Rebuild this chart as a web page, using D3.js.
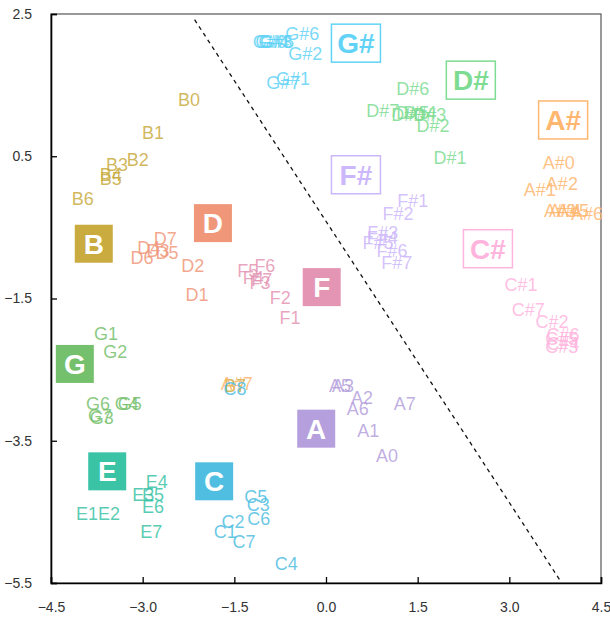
<!DOCTYPE html>
<html>
<head>
<meta charset="utf-8" />
<title>pitch map</title>
<script src="https://d3js.org/d3.v7.min.js"></script>
<style>
  body { margin: 0; background: #fff; }
  text { font-family: "Liberation Sans", Arial, sans-serif; }
</style>
</head>
<body>
<svg id="chart" width="610" height="619"></svg>
<script>
// group centres (big boxes)
var groupNames = ["A", "A#", "B", "C", "C#", "D", "D#", "E", "F", "F#", "G", "G#"];
var groupX = [-0.16, 3.88, -3.80, -1.83, 2.65, -1.85, 2.37, -3.58, -0.07, 0.49, -4.11, 0.49];
var groupY = [-3.33, 1.01, -0.73, -4.07, -0.80, -0.44, 1.57, -3.93, -1.34, 0.24, -2.42, 2.09];

// individual points
var labelNames = [
  "B0", "B1", "B2", "B3", "B4", "B5", "B6", "B7",
  "D1", "D2", "D3", "D4", "D5", "D6", "D7",
  "F1", "F2", "F3", "F4", "F5", "F6", "F7",
  "G#0", "G#1", "G#2", "G#3", "G#4", "G#5", "G#6", "G#7",
  "D#0", "D#1", "D#2", "D#3", "D#4", "D#5", "D#6", "D#7",
  "A#0", "A#1", "A#2", "A#3", "A#4", "A#5", "A#6", "A#7",
  "C#1", "C#2", "C#3", "C#4", "C#5", "C#6", "C#7",
  "F#1", "F#2", "F#3", "F#4", "F#5", "F#6", "F#7",
  "A0", "A1", "A2", "A3", "A5", "A6", "A7",
  "C1", "C2", "C3", "C4", "C5", "C6", "C7", "C8",
  "E1", "E2", "E3", "E4", "E5", "E6", "E7",
  "G1", "G2", "G3", "G4", "G5", "G6", "G7"
];
var labelX = [
  -2.24, -2.83, -3.08, -3.42, -3.52, -3.52, -3.98, -1.49,
  -2.11, -2.18, -2.75, -2.90, -2.60, -3.01, -2.63,
  -0.59, -0.75, -1.08, -1.19, -1.28, -1.00, -1.05,
  -0.92, -0.54, -0.34, -0.83, -0.88, -0.80, -0.39, -0.70,
  1.34, 2.03, 1.75, 1.70, 1.54, 1.42, 1.42, 0.93,
  3.81, 3.50, 3.86, 3.83, 3.91, 4.04, 4.27, -1.46,
  3.19, 3.70, 3.86, 3.88, 3.86, 3.88, 3.31,
  1.42, 1.18, 0.93, 0.92, 0.85, 1.08, 1.16,
  1.00, 0.69, 0.59, 0.28, 0.23, 0.52, 1.29,
  -1.65, -1.52, -1.11, -0.65, -1.15, -1.10, -1.34, -1.49,
  -3.91, -3.55, -2.99, -2.77, -2.83, -2.83, -2.86,
  -3.60, -3.45, -3.67, -3.26, -3.21, -3.73, -3.70
];
var labelY = [
  1.30, 0.83, 0.46, 0.39, 0.25, 0.19, -0.10, -2.73,
  -1.44, -1.03, -0.82, -0.79, -0.86, -0.92, -0.65,
  -1.77, -1.49, -1.28, -1.20, -1.10, -1.04, -1.24,
  2.12, 1.59, 1.95, 2.11, 2.12, 2.11, 2.22, 1.54,
  1.08, 0.48, 0.93, 1.08, 1.12, 1.11, 1.45, 1.14,
  0.41, 0.03, 0.12, -0.26, -0.26, -0.26, -0.30, -2.69,
  -1.30, -1.83, -2.17, -2.13, -2.06, -2.01, -1.65,
  -0.12, -0.31, -0.57, -0.64, -0.71, -0.82, -0.99,
  -3.71, -3.35, -2.89, -2.72, -2.72, -3.04, -2.97,
  -4.78, -4.63, -4.40, -5.22, -4.29, -4.59, -4.92, -2.76,
  -4.52, -4.52, -4.26, -4.07, -4.26, -4.43, -4.78,
  -1.99, -2.25, -3.17, -2.98, -2.98, -2.98, -3.14
];

// dashed separator
var lineX = [-2.15, 3.82];
var lineY = [2.42, -5.45];

var xTicks = [-4.5, -3.0, -1.5, 0.0, 1.5, 3.0, 4.5];
var yTicks = [2.5, 0.5, -1.5, -3.5, -5.5];

var colors = {
  "A": "#b59fdc", "A#": "#ffb770", "B": "#c9ab3f", "C": "#4fbee1",
  "C#": "#ffb4de", "D": "#f0977a", "D#": "#7ddc92", "E": "#3bc3a6",
  "F": "#e495b4", "F#": "#cdb7fb", "G": "#75c06c", "G#": "#62d3f6"
};

var svg = d3.select("#chart");
var x = d3.scaleLinear().domain([-4.5, 4.5]).range([51, 601]);
var y = d3.scaleLinear().domain([-5.5, 2.5]).range([583, 14]);

function fmt(v) { return d3.format(".1f")(v).replace("-", "\u2212"); }

// frame
svg.append("rect")
  .attr("x", x(-4.5)).attr("y", y(2.5))
  .attr("width", x(4.5) - x(-4.5)).attr("height", y(-5.5) - y(2.5))
  .attr("fill", "none").attr("stroke", "#555").attr("stroke-width", 1.2);

var xAxis = svg.append("g")
  .attr("transform", "translate(0," + y(-5.5) + ")")
  .call(d3.axisBottom(x).tickValues(xTicks).tickSize(-6).tickPadding(19).tickFormat(fmt));
var yAxis = svg.append("g")
  .attr("transform", "translate(" + x(-4.5) + ",0)")
  .call(d3.axisLeft(y).tickValues(yTicks).tickSize(-6).tickPadding(19).tickFormat(fmt));

[xAxis, yAxis].forEach(function(a) {
  a.select(".domain").attr("stroke", "#000").attr("stroke-width", 1.6);
  a.selectAll(".tick line").attr("stroke", "#000").attr("stroke-width", 1.3);
  a.selectAll(".tick text").attr("fill", "#333").style("font-size", "14px")
    .style("font-family", "\"Liberation Sans\", Arial, sans-serif");
});

// dashed line
svg.append("line")
  .attr("x1", x(lineX[0])).attr("y1", y(lineY[0]))
  .attr("x2", x(lineX[1])).attr("y2", y(lineY[1]))
  .attr("stroke", "#111").attr("stroke-width", 1.3)
  .attr("stroke-dasharray", "4,4");

// point labels
var pts = labelNames.map(function(n, i) {
  return { name: n, g: n.replace(/[0-9]+$/, ""), x: labelX[i], y: labelY[i] };
});
svg.append("g").selectAll("text").data(pts).enter().append("text")
  .attr("x", function(d) { return x(d.x); })
  .attr("y", function(d) { return y(d.y); })
  .attr("dy", "0.36em")
  .attr("text-anchor", "middle")
  .attr("fill", function(d) { return colors[d.g]; })
  .attr("fill-opacity", 0.85)
  .style("font-size", "18px")
  .text(function(d) { return d.name; });

// group boxes
var groups = groupNames.map(function(n, i) {
  return { name: n, x: groupX[i], y: groupY[i], sharp: n.length > 1 };
});
var gb = svg.append("g").selectAll("g").data(groups).enter().append("g")
  .attr("transform", function(d) { return "translate(" + x(d.x) + "," + y(d.y) + ")"; });

gb.append("rect")
  .attr("x", function(d) { return d.sharp ? -24.5 : -19; })
  .attr("y", -19)
  .attr("width", function(d) { return d.sharp ? 49 : 38; })
  .attr("height", 38)
  .attr("fill", function(d) { return d.sharp ? "#fff" : colors[d.name]; })
  .attr("stroke", function(d) { return d.sharp ? colors[d.name] : "none"; })
  .attr("stroke-width", 1.5);

gb.append("text")
  .attr("text-anchor", "middle")
  .attr("dy", "0.36em")
  .attr("fill", function(d) { return d.sharp ? colors[d.name] : "#fff"; })
  .style("font-size", "28px")
  .style("font-weight", "bold")
  .text(function(d) { return d.name; });
</script>
</body>
</html>
